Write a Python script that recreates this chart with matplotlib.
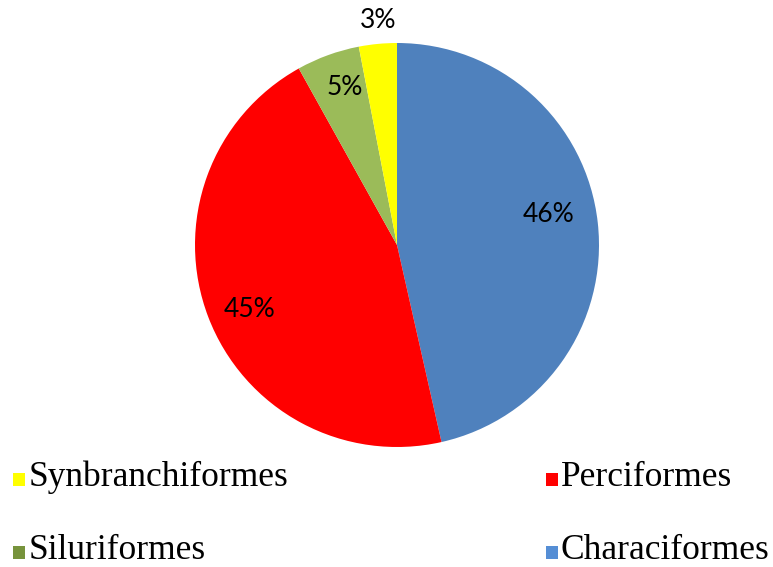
import matplotlib
matplotlib.use('Agg')
import matplotlib.pyplot as plt
from matplotlib.patches import Rectangle

# orders of fish, percent share
orders = ['Characiformes', 'Perciformes', 'Siluriformes', 'Synbranchiformes']
shares = [46, 45, 5, 3]
pie_colors = ['#4F81BD', '#FF0000', '#9BBB59', '#FFFF00']
key_colors = ['#558ED5', '#FF0000', '#77933C', '#FFFF00']

W, H = 773, 567
fig = plt.figure(figsize=(W / 100, H / 100), dpi=100)

# pie centre and radius in pixels
cx, cy, r = 397, 245, 202
ax = fig.add_axes([(cx - r) / W, (H - cy - r) / H, 2 * r / W, 2 * r / H])
wedges, texts, autotexts = ax.pie(shares, colors=pie_colors, startangle=90,
                                  counterclock=False, autopct='%1.0f%%',
                                  wedgeprops=dict(linewidth=0),
                                  textprops=dict(family='Lato', fontsize=19,
                                                 color='black'))
ax.set_xlim(-1, 1)
ax.set_ylim(-1, 1)

# label spots (x, y) like the excel best-fit placement
spots = [(0.75, 0.15), (-0.73, -0.32), (-0.26, 0.78), (-0.094, 1.11)]
for t, (x, y) in zip(autotexts, spots):
    t.set_position((x, y))

# legend, two columns, bottom-up order of the slices
key_order = [3, 1, 2, 0]
col_x = [13, 546]
txt_x = [29, 561]
row_base = [486, 559]
for k, i in enumerate(key_order):
    px = col_x[k % 2]
    py = row_base[k // 2]
    fig.patches.append(Rectangle((px / W, (H - py) / H), 12 / W, 13 / H,
                                 transform=fig.transFigure, figure=fig,
                                 facecolor=key_colors[i], edgecolor='none'))
    fig.text(txt_x[k % 2] / W, (H - py) / H, orders[i], family='Liberation Serif',
             fontsize=25.5, va='baseline', ha='left')

fig.savefig('out.png', dpi=100)
